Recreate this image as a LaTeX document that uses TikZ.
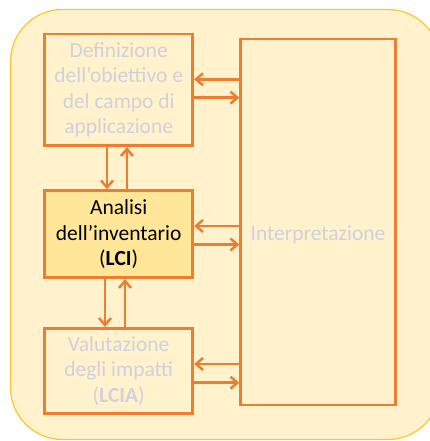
\documentclass[tikz,border=0pt]{standalone}
\usepackage{fontspec}
\setmainfont{Carlito}
\usetikzlibrary{arrows.meta}
\definecolor{panelfill}{RGB}{255,242,204}
\definecolor{panelline}{RGB}{255,196,40}
\definecolor{phaseline}{RGB}{237,125,49}
\definecolor{activefill}{RGB}{255,230,153}
\definecolor{fadedtext}{RGB}{208,209,219}
\tikzset{
  phase/.style={draw=phaseline, line width=2.7pt, rectangle, align=center,
    minimum width=148pt, inner sep=0pt, font=\fontsize{21.5}{25.5}\selectfont},
  faded/.style={text=fadedtext},
  arr/.style={draw=phaseline, line width=2.5pt,
    -{Straight Barb[length=7pt,width=12pt,line width=2.5pt]}},
}
\begin{document}
\begin{tikzpicture}[x=1pt,y=1pt]
  \useasboundingbox (0,0) rectangle (429,-441);
  % background panel
  \draw[draw=panelline, fill=panelfill, line width=1.2pt, rounded corners=52pt]
    (10.5,-9.5) rectangle (440,-439.5);
  % phase boxes
  \node[phase, faded, minimum height=111.7pt] (def) at (118.7,-89.9)
    {Definizione\\dell’obiettivo e\\del campo di\\applicazione};
  \node[phase, fill=activefill, minimum height=87pt] (ana) at (118.7,-234.2)
    {Analisi\\dell’inventario\\(\textbf{LCI})};
  \node[phase, faded, minimum height=85pt] (val) at (118.7,-370.8)
    {Valutazione\\degli impatti\\(\textbf{LCIA})};
  \node[phase, minimum width=154.6pt, minimum height=366pt] (interp) at (318,-222) {};
  \node[faded, font=\fontsize{21.5}{25.5}\selectfont] (interplabel) at (318,-235) {Interpretazione};
  % links between the interpretation box and each phase
  \draw[arr] (interp.west |- 0,-79.3) -- (def.east |- 0,-79.3);
  \draw[arr] (def.east |- 0,-97.7) -- (interp.west |- 0,-97.7);
  \draw[arr] (interp.west |- 0,-226) -- (ana.east |- 0,-226);
  \draw[arr] (ana.east |- 0,-244.5) -- (interp.west |- 0,-244.5);
  \draw[arr] (interp.west |- 0,-364) -- (val.east |- 0,-364);
  \draw[arr] (val.east |- 0,-382.7) -- (interp.west |- 0,-382.7);
  % links between consecutive phases
  \draw[arr] (def.south -| 107,0) -- (ana.north -| 107,0);
  \draw[arr] (ana.north -| 127,0) -- (def.south -| 127,0);
  \draw[arr] (ana.south -| 105,0) -- (val.north -| 105,0);
  \draw[arr] (val.north -| 125,0) -- (ana.south -| 125,0);
\end{tikzpicture}
\end{document}
